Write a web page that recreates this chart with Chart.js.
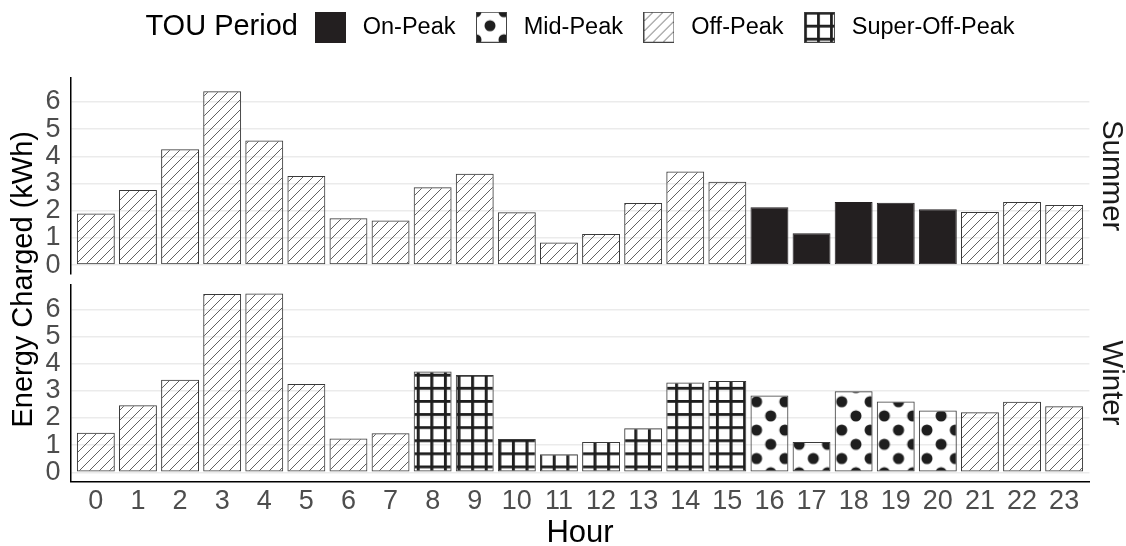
<!DOCTYPE html>
<html>
<head>
<meta charset="utf-8">
<title>Energy charged by hour and TOU period</title>
<script src="https://cdn.jsdelivr.net/npm/chart.js@4.4.1/dist/chart.umd.min.js"></script>
<style>
  html, body { margin: 0; padding: 0; background: #fff; }
  #wrap { width: 1126px; height: 546px; position: relative; }
</style>
</head>
<body>
<div id="wrap"><canvas id="touChart"></canvas></div>
<script>
// data
const hours = [0, 1, 2, 3, 4, 5, 6, 7, 8, 9, 10, 11, 12, 13, 14, 15, 16, 17, 18, 19, 20, 21, 22, 23];
const yTicks = [0, 1, 2, 3, 4, 5, 6];
const summerKwh = [1.90, 2.76, 4.26, 6.40, 4.58, 3.28, 1.72, 1.64, 2.86, 3.36, 1.94, 0.83,
                   1.14, 2.28, 3.44, 3.07, 2.13, 1.17, 2.32, 2.29, 2.05, 1.95, 2.32, 2.21];
const winterKwh = [1.46, 2.47, 3.41, 6.56, 6.58, 3.25, 1.25, 1.44, 3.71, 3.58, 1.23, 0.67,
                   1.12, 1.62, 3.31, 3.36, 2.83, 1.12, 2.98, 2.61, 2.28, 2.21, 2.60, 2.43];
const summerPeriod = ['Off-Peak', 'Off-Peak', 'Off-Peak', 'Off-Peak', 'Off-Peak', 'Off-Peak',
                      'Off-Peak', 'Off-Peak', 'Off-Peak', 'Off-Peak', 'Off-Peak', 'Off-Peak',
                      'Off-Peak', 'Off-Peak', 'Off-Peak', 'Off-Peak', 'On-Peak', 'On-Peak',
                      'On-Peak', 'On-Peak', 'On-Peak', 'Off-Peak', 'Off-Peak', 'Off-Peak'];
const winterPeriod = ['Off-Peak', 'Off-Peak', 'Off-Peak', 'Off-Peak', 'Off-Peak', 'Off-Peak',
                      'Off-Peak', 'Off-Peak', 'Super-Off-Peak', 'Super-Off-Peak', 'Super-Off-Peak', 'Super-Off-Peak',
                      'Super-Off-Peak', 'Super-Off-Peak', 'Super-Off-Peak', 'Super-Off-Peak', 'Mid-Peak', 'Mid-Peak',
                      'Mid-Peak', 'Mid-Peak', 'Mid-Peak', 'Off-Peak', 'Off-Peak', 'Off-Peak'];
const periods = ['On-Peak', 'Mid-Peak', 'Off-Peak', 'Super-Off-Peak'];
const legendTitle = 'TOU Period';

// look
const FONT = '"Liberation Sans", Arial, Helvetica, sans-serif';
Chart.defaults.font.family = FONT;
const INK = '#1e1e1e';
const LEFT_W = 70.6, RIGHT_W = 36.6;     // axis / strip widths
const PANEL_H = 196.7, GAP_H = 10.6;     // facet heights
const TITLE_GAP = 17;
const TICK_FONT = { size: 27, lineHeight: 1.2 };

// pattern tiles
function makeTile(w, h, paint) {
  const c = document.createElement('canvas');
  c.width = w; c.height = h;
  paint(c.getContext('2d'), w, h);
  return c;
}
const tiles = {
  'Off-Peak': makeTile(10, 10, (g, w, h) => {
    g.strokeStyle = '#444';
    g.lineWidth = 0.85;
    g.beginPath();
    for (const o of [-w, 0, w]) { g.moveTo(o, h); g.lineTo(o + w, 0); }
    g.stroke();
  }),
  'Super-Off-Peak': makeTile(13, 13, (g, w, h) => {
    g.fillStyle = INK;
    g.fillRect(0, 0, w, 2.8);
    g.fillRect(0, 0, 2.8, h);
  }),
  'Mid-Peak': makeTile(28, 28, (g, w, h) => {
    g.fillStyle = INK;
    for (const [x, y] of [[0, 0], [w, 0], [0, h], [w, h], [w / 2, h / 2]]) {
      g.beginPath(); g.arc(x, y, 5.5, 0, Math.PI * 2); g.fill();
    }
  })
};
const phase = {
  'Off-Peak': new DOMMatrix(),
  'Super-Off-Peak': new DOMMatrix().translate(8.7, 6.95).scale(13.6 / 13, 13.1 / 13),
  'Mid-Peak': new DOMMatrix().translate(18.1, 4.1).scale(28.4 / 28)
};
const scratch = document.createElement('canvas').getContext('2d');
const fills = {}, edges = {}, swatches = {};
periods.forEach(p => {
  if (p === 'On-Peak') {
    fills[p] = '#231F20';
    edges[p] = '#231F20';
  } else {
    const pat = scratch.createPattern(tiles[p], 'repeat');
    pat.setTransform(phase[p]);
    fills[p] = pat;
    edges[p] = '#3a3a3a';
  }
  // legend key
  const c = document.createElement('canvas');
  c.width = 31; c.height = 31;
  const g = c.getContext('2d');
  if (p === 'On-Peak') {
    g.fillStyle = '#231F20';
    g.fillRect(0, 0, 31, 31);
  } else {
    g.fillStyle = '#fff';
    g.fillRect(0, 0, 31, 31);
    g.fillStyle = g.createPattern(tiles[p], 'repeat');
    g.fillRect(0, 0, 31, 31);
    g.strokeStyle = '#444';
    g.lineWidth = 1;
    g.strokeRect(0.5, 0.5, 30, 30);
  }
  swatches[p] = c;
});

// shared y range, ggplot style 5% expansion
const yMaxData = Math.max(...summerKwh, ...winterKwh);
const yMin = -yMaxData * 0.05;
const yMax = yMaxData * 1.05;

function panelAxis(weight) {
  return {
    type: 'linear', position: 'left', stack: 'left', stackWeight: PANEL_H, weight: weight,
    min: yMin, max: yMax,
    afterBuildTicks: a => { a.ticks = yTicks.map(v => ({ value: v })); },
    ticks: { color: '#4D4D4D', font: TICK_FONT, padding: 10, autoSkip: false },
    grid: { color: '#EBEBEB', lineWidth: 1.6, drawTicks: false },
    border: { color: '#000', width: 1.5 },
    afterFit: a => { a.width = LEFT_W; }
  };
}

function stripAxis(text, weight, h) {
  return {
    type: 'linear', position: 'right', stack: 'right', stackWeight: h, weight: weight,
    ticks: { display: false },
    grid: { display: false },
    border: { display: false },
    title: { display: text !== '', text: text, color: '#1A1A1A', font: { size: 29.5, lineHeight: 1 }, padding: 0 },
    afterFit: a => { a.width = RIGHT_W; }
  };
}

// puts "TOU Period" inline, left of the keys, and centres the group on the panels
const legendTitlePlugin = {
  id: 'legendTitle',
  afterLayout(chart) {
    const lg = chart.legend;
    if (!lg || !lg.lineWidths) return;
    const pad = lg.options.labels.padding;
    const inset = (lg.options.labels.pointStyleWidth - 31) / 2;
    const ctx = chart.ctx;
    ctx.save();
    ctx.font = '29px ' + FONT;
    const tw = ctx.measureText(legendTitle).width;
    ctx.restore();
    const lw = lg.lineWidths[0];
    const group = tw + TITLE_GAP + (lw - pad - inset);
    const mid = (chart.chartArea.left + chart.chartArea.right) / 2;
    const titleLeft = mid - group / 2;
    const x0 = titleLeft + tw + TITLE_GAP - inset;
    lg.left = 2 * x0 - pad - lg.right + lw;
    lg.top = 0;
    lg.bottom = lg.height;
    lg.$titleRight = titleLeft + tw;
  },
  afterDraw(chart) {
    const lg = chart.legend;
    const ctx = chart.ctx;
    const labels = lg.options.labels;
    ctx.save();
    ctx.font = '29px ' + FONT;
    ctx.fillStyle = '#000';
    ctx.textAlign = 'right';
    ctx.textBaseline = 'middle';
    ctx.fillText(legendTitle, lg.$titleRight, lg.top + labels.padding + labels.font.size / 2);
    ctx.restore();
  }
};

new Chart(document.getElementById('touChart'), {
  type: 'bar',
  data: {
    labels: hours,
    datasets: [
      {
        label: 'Summer',
        data: summerKwh,
        yAxisID: 'ySummer',
        backgroundColor: summerPeriod.map(p => fills[p]),
        borderColor: summerPeriod.map(p => edges[p]),
        borderWidth: 1,
        borderSkipped: false,
        grouped: false,
        categoryPercentage: 1,
        barPercentage: 0.9
      },
      {
        label: 'Winter',
        data: winterKwh,
        yAxisID: 'yWinter',
        backgroundColor: winterPeriod.map(p => fills[p]),
        borderColor: winterPeriod.map(p => edges[p]),
        borderWidth: 1,
        borderSkipped: false,
        grouped: false,
        categoryPercentage: 1,
        barPercentage: 0.9
      }
    ]
  },
  options: {
    responsive: true,
    maintainAspectRatio: false,
    animation: false,
    layout: { padding: { top: 28.3 } },
    plugins: {
      tooltip: { enabled: false },
      legend: {
        position: 'top',
        onClick: null,
        labels: {
          usePointStyle: true,
          pointStyleWidth: 41,
          padding: 15.5,
          color: '#000',
          font: { size: 23.5 },
          generateLabels: () => periods.map(p => ({
            text: p,
            pointStyle: swatches[p],
            fillStyle: 'rgba(0,0,0,0)',
            strokeStyle: 'rgba(0,0,0,0)',
            fontColor: '#000',
            lineWidth: 0,
            hidden: false
          }))
        }
      }
    },
    scales: {
      x: {
        type: 'linear',
        min: -0.6,
        max: 23.6,
        offset: false,
        afterBuildTicks: a => { a.ticks = hours.map(v => ({ value: v })); },
        ticks: { color: '#4D4D4D', font: TICK_FONT, padding: -4, maxRotation: 0, autoSkip: false },
        grid: { display: false, offset: false },
        border: { color: '#000', width: 1.5 },
        title: { display: true, text: 'Hour', color: '#000', font: { size: 31, lineHeight: 1 }, padding: { top: 0, bottom: -3 } },
        afterFit: a => { a.height = 64.7; }
      },
      ySummer: panelAxis(3),
      yGap: {
        type: 'linear', position: 'left', stack: 'left', stackWeight: GAP_H, weight: 2,
        ticks: { display: false },
        grid: { display: false },
        border: { display: false },
        title: {
          display: true, text: 'Energy Charged (kWh)', color: '#000',
          font: { size: 29, lineHeight: 1 }, padding: { top: 9.5, bottom: 0 }
        },
        afterFit: a => { a.width = LEFT_W; }
      },
      yWinter: panelAxis(1),
      rSummer: stripAxis('Summer', 1, PANEL_H),
      rGap: stripAxis('', 2, GAP_H),
      rWinter: stripAxis('Winter', 3, PANEL_H)
    }
  },
  plugins: [legendTitlePlugin]
});
</script>
</body>
</html>
